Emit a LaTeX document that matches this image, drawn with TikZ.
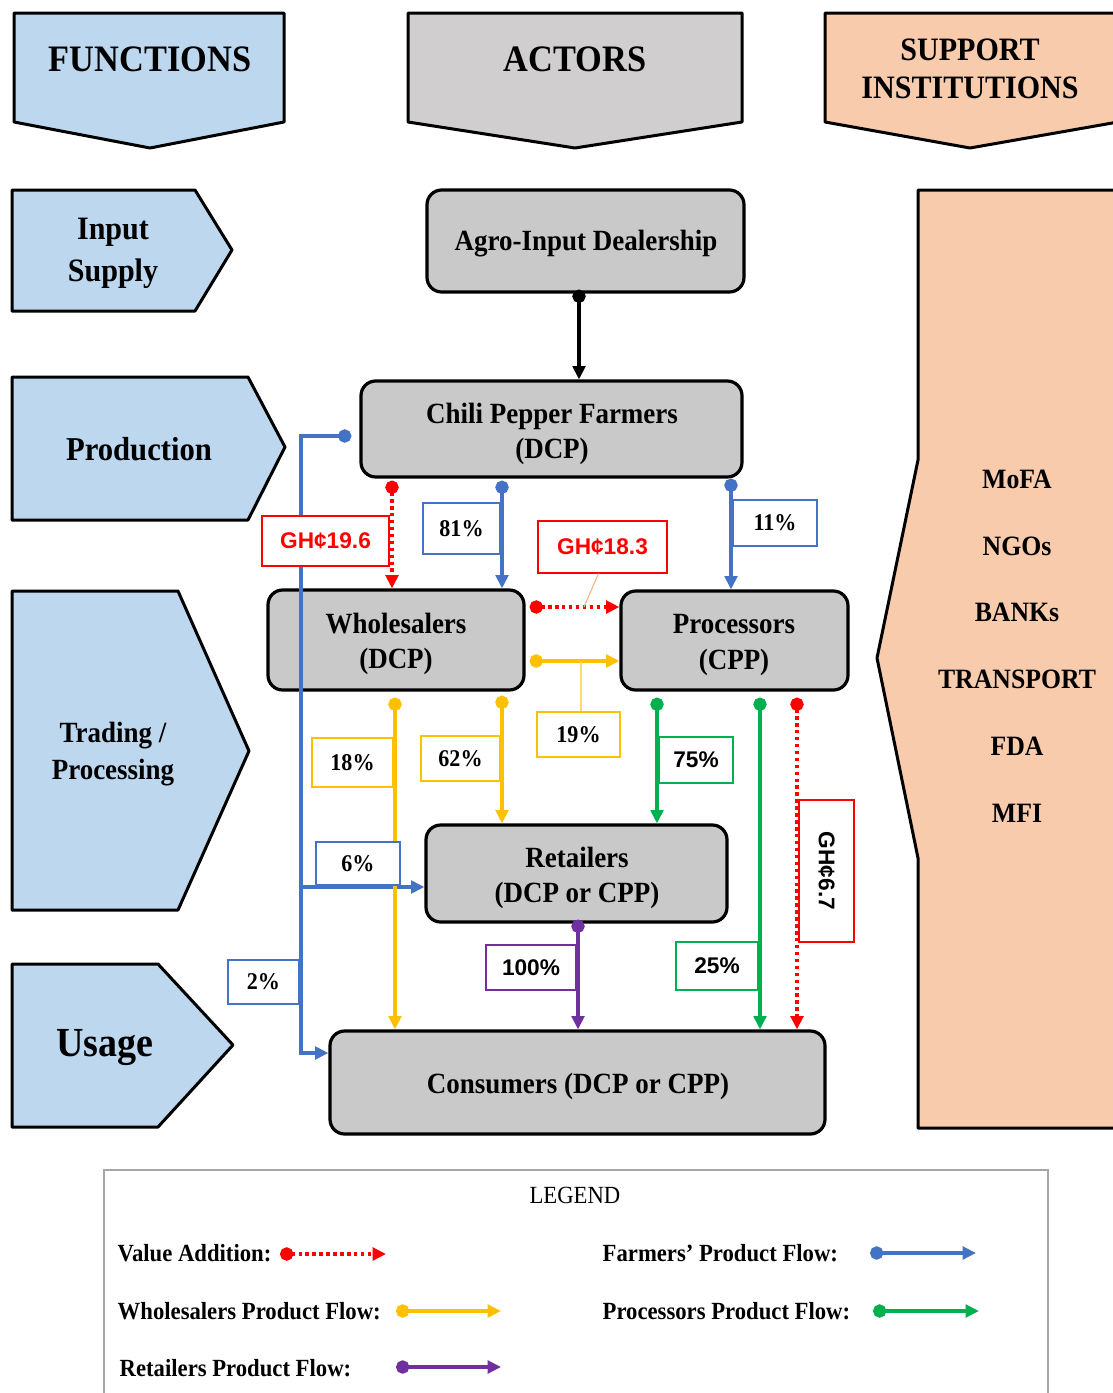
\documentclass[tikz,border=0pt]{standalone}
\usepackage{fontspec}
\setmainfont{Liberation Serif}[FakeStretch=0.92]
\newfontfamily\lsans{Liberation Sans}
\usetikzlibrary{arrows.meta,fit,calc}
\definecolor{fblue}{HTML}{BDD7EE}
\definecolor{hgray}{HTML}{D0CECE}
\definecolor{salmon}{HTML}{F8CBAD}
\definecolor{boxgray}{HTML}{C9C9C9}
\definecolor{cblue}{HTML}{4472C4}
\definecolor{cyellow}{HTML}{FFC000}
\definecolor{cgreen}{HTML}{00B050}
\definecolor{cpurple}{HTML}{7030A0}
\definecolor{cred}{HTML}{FF0000}
\definecolor{lorange}{HTML}{F4B183}
\definecolor{lyellow}{HTML}{FFD966}
\definecolor{leggray}{HTML}{A6A6A6}
\begin{document}
\begin{tikzpicture}[x=0.75pt,y=-0.75pt,
  outline/.style={line width=2.25pt, line join=round},
  actor/.style={draw=black, line width=2.4pt, fill=boxgray, rounded corners=11pt, inner sep=0pt},
  atext/.style={align=center, inner sep=0pt, font=\bfseries\fontsize{22}{26.5}\selectfont},
  ftext/.style={font=\bfseries\fontsize{#1}{#1}\selectfont, align=center},
  lbl/.style={draw=#1, line width=0.8pt, fill=white, inner sep=0pt},
  ltext/.style={inner sep=0pt, font=\bfseries\fontsize{18}{20}\selectfont},
  sltext/.style={inner sep=0pt, font=\lsans\bfseries\fontsize{17}{20}\selectfont},
  flow/.style={color=#1, line width=2.4pt, {Circle[length=10pt]}-{Triangle[length=10pt,width=9.5pt]}},
  plainflow/.style={color=#1, line width=2.4pt, -{Triangle[length=10pt,width=9.5pt]}},
  vflow/.style={color=cred, line width=2.6pt, dash pattern=on 2.6pt off 2.6pt, {Circle[length=10pt]}-{Triangle[length=10pt,width=9.5pt]}},
  leader/.style={draw=#1, line width=0.8pt},
  legtext/.style={anchor=west, font=\bfseries\fontsize{18.5}{22}\selectfont}
]
\useasboundingbox (0,0) rectangle (1113,1393);
\clip (0,0) rectangle (1113,1393);

% ---------- headers ----------
\draw[outline, fill=fblue] (14,13) -- (284,13) -- (284,122) -- (150,148) -- (14,122) -- cycle;
\draw[outline, fill=hgray] (408,13) -- (742,13) -- (742,122) -- (575,148) -- (408,122) -- cycle;
\draw[outline, fill=salmon] (825,13) -- (1118,13) -- (1118,122) -- (970,148) -- (825,122) -- cycle;
\node[ftext=28] (hfun) at (150,59) {FUNCTIONS};
\node[ftext=28] (hact) at (575,59) {ACTORS};
\node[font=\bfseries\fontsize{24.5}{29}\selectfont, align=center] (hsup) at (970,69) {SUPPORT\\INSTITUTIONS};

% ---------- functions ----------
\draw[outline, fill=fblue] (12,190) -- (195,190) -- (232,250) -- (195,311) -- (12,311) -- cycle;
\draw[outline, fill=fblue] (12,377) -- (248,377) -- (285,447) -- (248,520) -- (12,520) -- cycle;
\draw[outline, fill=fblue] (12,591) -- (178,591) -- (249,751) -- (178,910) -- (12,910) -- cycle;
\draw[outline, fill=fblue] (12,964) -- (158,964) -- (233,1045) -- (158,1127) -- (12,1127) -- cycle;
\node[font=\bfseries\fontsize{24.5}{31.5}\selectfont, align=center] (fin) at (113,253) {Input\\Supply};
\node[ftext=25] (fprod) at (139,449) {Production};
\node[font=\bfseries\fontsize{22}{27.75}\selectfont, align=center] (ftrade) at (113,754) {Trading /\\Processing};
\node[ftext=31] (fuse) at (105,1048) {Usage};

% ---------- support institutions ----------
\draw[outline, fill=salmon] (1118,190) -- (918,190) -- (918,460) -- (877,658) -- (918,858) -- (918,1128) -- (1118,1128);
\foreach \t/\yy/\nm in {MoFA/479/s1, NGOs/546/s2, BANKs/612/s3, TRANSPORT/679/s4, FDA/746/s5, MFI/813/s6}
  \node[font=\bfseries\fontsize{21}{24}\selectfont] (\nm) at (1017,\yy) {\t};

% ---------- actors ----------
\node[actor, fit={(427,190)(744,292)}] (agro) {};
\node[actor, fit={(361,381)(742,477)}] (farm) {};
\node[actor, fit={(268,590)(524,690)}] (whole) {};
\node[actor, fit={(621,591)(848,690)}] (proc) {};
\node[actor, fit={(426,825)(727,922)}] (ret) {};
\node[actor, fit={(330,1031)(825,1134)}] (cons) {};
\node[atext] (agrot) at (586,244) {Agro-Input Dealership};
\node[atext] (farmt) at (552,434) {Chili Pepper Farmers\\(DCP)};
\node[atext] (wholet) at (396,644) {Wholesalers\\(DCP)};
\node[atext] (proct) at (734,645) {Processors\\(CPP)};
\node[atext] (rett) at (577,878) {Retailers\\(DCP or CPP)};
\node[atext] (const) at (578,1086) {Consumers (DCP or CPP)};

% ---------- columns / rows ----------
\coordinate (cA) at (579,0);
\coordinate (cBend) at (301,1053);
\coordinate (cB6) at (301,887);
\coordinate (cR1) at (392,0);
\coordinate (cF81) at (502,0);
\coordinate (cF11) at (731,0);
\coordinate (rR) at (0,607);
\coordinate (rY) at (0,661);
\coordinate (cY18) at (395,0);
\coordinate (cY62) at (502,0);
\coordinate (cG75) at (657,0);
\coordinate (cG25) at (760,0);
\coordinate (cR67) at (797,0);
\coordinate (cP) at (578,0);

% ---------- connectors ----------
\draw[flow=black] ($(agro.south -| cA)+(0,-4)$) -- (farm.north -| cA);
\draw[flow=cblue] ($(farm.west)+(-8,7)$) -| (cBend) -- (cons.west |- cBend);
\draw[plainflow=cblue] (cB6) -- (ret.west |- cB6);
\draw[vflow] ($(farm.south -| cR1)+(0,2)$) -- (whole.north -| cR1);
\draw[flow=cblue] ($(farm.south -| cF81)+(0,2)$) -- (whole.north -| cF81);
\draw[flow=cblue] (farm.south -| cF11) -- (proc.north -| cF11);
\draw[vflow] ($(whole.east |- rR)+(4,0)$) -- (proc.west |- rR);
\draw[flow=cyellow] ($(whole.east |- rY)+(4,0)$) -- (proc.west |- rY);
\draw[flow=cyellow] ($(whole.south -| cY18)+(0,6)$) -- (cons.north -| cY18);
\draw[flow=cyellow] ($(whole.south -| cY62)+(0,4)$) -- (ret.north -| cY62);
\draw[flow=cgreen] ($(proc.south -| cG75)+(0,6)$) -- (ret.north -| cG75);
\draw[flow=cgreen] ($(proc.south -| cG25)+(0,6)$) -- (cons.north -| cG25);
\draw[vflow] ($(proc.south -| cR67)+(0,6)$) -- (cons.north -| cR67);
\draw[flow=cpurple] ($(ret.south -| cP)+(0,-4)$) -- (cons.north -| cP);

% ---------- labels ----------
\coordinate (ld1) at (584,607);
\coordinate (ld2) at (581,661);
\node[lbl=cred, fit={(262,516)(389,566)}] (l196) {};
\node[sltext, text=cred] at (l196.center) {GH¢19.6};
\node[lbl=cblue, fit={(423,503)(500,554)}] (l81) {};
\node[ltext] at (l81.center) {81\%};
\node[lbl=cblue, fit={(733,500)(817,546)}] (l11) {};
\node[ltext] at (l11.center) {11\%};
\node[lbl=cred, fit={(538,521)(667,573)}] (l183) {};
\node[sltext, text=cred] at (l183.center) {GH¢18.3};
\draw[leader=lorange] ($(l183.south)+(-4,0)$) -- (ld1);
\node[lbl=cyellow, fit={(537,712)(620,757)}] (l19) {};
\node[ltext] at (l19.center) {19\%};
\draw[leader=lyellow] (l19.north -| ld2) -- (ld2);
\node[lbl=cyellow, fit={(312,738)(393,787)}] (l18) {};
\node[ltext] at (l18.center) {18\%};
\node[lbl=cyellow, fit={(421,736)(500,781)}] (l62) {};
\node[ltext] at (l62.center) {62\%};
\node[lbl=cblue, fit={(316,842)(400,885)}] (l6) {};
\node[ltext] at (l6.center) {6\%};
\node[lbl=cgreen, fit={(659,737)(733,783)}] (l75) {};
\node[sltext] at (l75.center) {75\%};
\node[lbl=cgreen, fit={(676,942)(758,990)}] (l25) {};
\node[sltext] at (l25.center) {25\%};
\node[lbl=cpurple, fit={(486,945)(576,990)}] (l100) {};
\node[sltext] at (l100.center) {100\%};
\node[lbl=cblue, fit={(228,960)(299,1004)}] (l2) {};
\node[ltext] at (l2.center) {2\%};
\node[lbl=cred, fit={(799,800)(854,942)}] (l67box) {};
\node[sltext, rotate=-90] (l67) at (l67box.center) {GH¢6.7};

% ---------- legend ----------
\draw[leggray, line width=1.2pt] (104,1410) -- (104,1170) -- (1048,1170) -- (1048,1410);
\node[font=\fontsize{18.5}{22}\selectfont] (legt) at (575,1195) {LEGEND};
\node[legtext] (lg1) at (113,1253) {Value Addition:};
\node[legtext] (lg2) at (113,1311) {Wholesalers Product Flow:};
\node[legtext] (lg3) at (115,1368) {Retailers Product Flow:};
\node[legtext] (lg4) at (598,1253) {Farmers' Product Flow:};
\node[legtext] (lg5) at (598,1311) {Processors Product Flow:};
\coordinate (a1s) at (280,1254); \coordinate (a1e) at (386,1254);
\coordinate (a2s) at (396,1311); \coordinate (a2e) at (501,1311);
\coordinate (a3s) at (396,1367); \coordinate (a3e) at (501,1367);
\coordinate (a4s) at (870,1253); \coordinate (a4e) at (976,1253);
\coordinate (a5s) at (873,1311); \coordinate (a5e) at (979,1311);
\draw[vflow] (a1s) -- (a1e);
\draw[flow=cyellow] (a2s) -- (a2e);
\draw[flow=cpurple] (a3s) -- (a3e);
\draw[flow=cblue] (a4s) -- (a4e);
\draw[flow=cgreen] (a5s) -- (a5e);
\end{tikzpicture}
\end{document}
